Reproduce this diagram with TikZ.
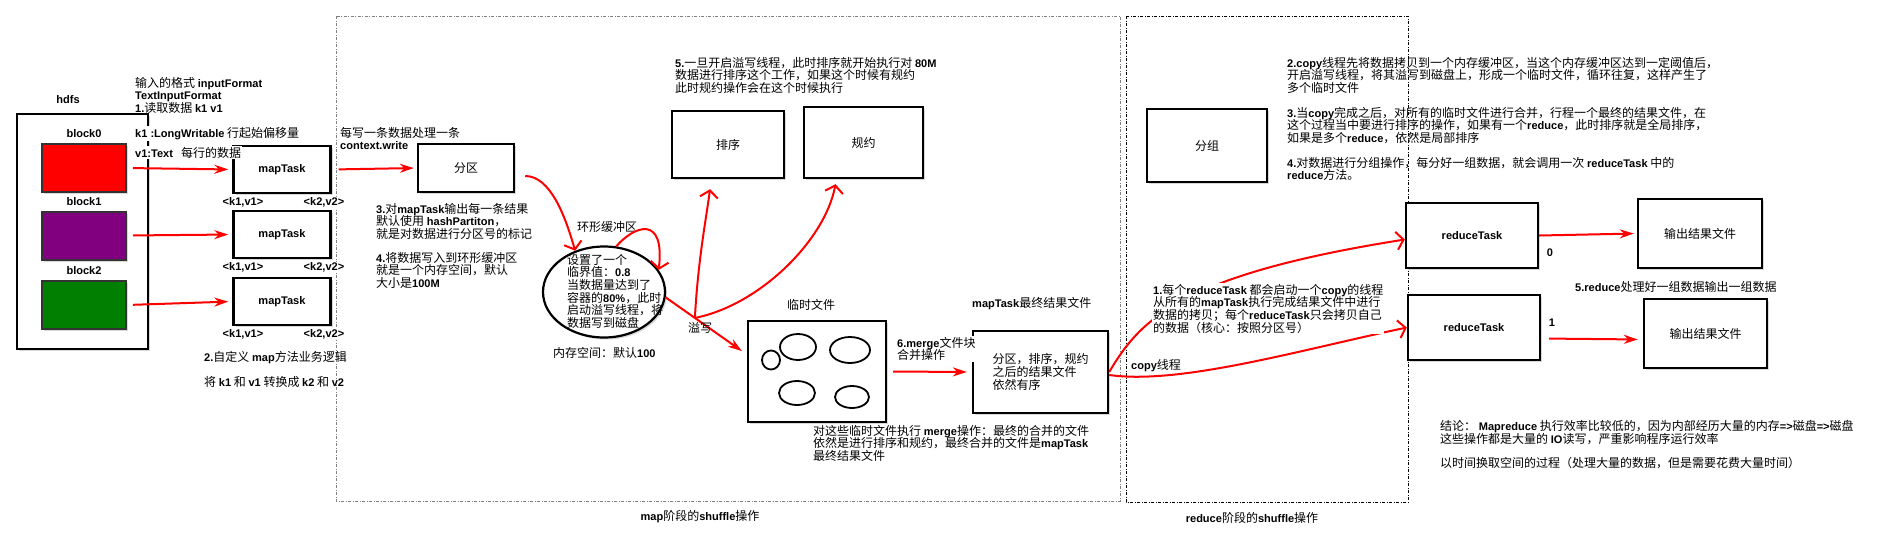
\documentclass[tikz,border=0pt]{standalone}
\usepackage{fontspec}
\setmainfont{Noto Sans CJK SC}
\newfontfamily\latinfont{Liberation Sans}[Scale=0.92]
\newcommand\en[1]{{\latinfont\bfseries #1}}
\usetikzlibrary{arrows.meta,shapes.geometric,shadows}

\definecolor{blockred}{HTML}{FF0000}
\definecolor{blockpurple}{HTML}{800080}
\definecolor{blockgreen}{HTML}{007F00}

\tikzset{%
  >=latex,
  every node/.style={font=\fontsize{12}{12.6}\selectfont},
  box/.style 2 args={draw, line width=2.4pt, minimum width=#1, minimum height=#2,
    inner sep=0pt, fill=white,
    drop shadow={shadow xshift=2pt, shadow yshift=-2pt, opacity=.3}},
  block/.style={draw=black!80, line width=2pt, minimum width=84pt, minimum height=48pt,
    fill=#1, drop shadow={shadow xshift=2pt, shadow yshift=-2pt, opacity=.3}},
  blob/.style 2 args={draw, ellipse, line width=1.8pt, minimum width=#1,
    minimum height=#2, inner sep=0pt},
  note/.style={align=left, anchor=north west, inner sep=0pt},
  halo/.style={fill=white, inner sep=1pt},
  lbl/.style={inner sep=0pt},
  flow/.style={red, line width=2pt, -{Stealth[length=14pt,width=9pt]}},
  bent/.style={red, line width=2pt, -{Straight Barb[length=7pt,width=18pt]}},
  phase/.style={line width=0.8pt, dash pattern=on 3pt off 1.5pt on 1pt off 1.5pt}
}

\begin{document}
\begin{tikzpicture}[x=1pt, y=-1pt]
  \useasboundingbox (0,0) rectangle (1896,555);

  % the two shuffle phases
  \draw[phase, gray] (336,16) rectangle (1120,501);
  \draw[phase] (1126,16) rectangle (1408,502);
  \node[lbl] (mapphase) at (700,517) {\en{map}阶段的\en{shuffle}操作};
  \node[lbl] (redphase) at (1252,518) {\en{reduce}阶段的\en{shuffle}操作};

  % input splits
  \node[lbl] (hdfslbl) at (68,100) {\en{hdfs}};
  \node[box={131pt}{235pt}] (hdfs) at (82.5,231.5) {};
  \foreach \i/\c/\by/\my in {0/blockred/168/169.5, 1/blockpurple/235.5/234.5, 2/blockgreen/305/301.5} {
    \node[block=\c] (block\i) at (84,\by) {};
    \node[lbl] (blocklbl\i) at (84,\by-34) {\en{block\i}};
    \node[box={97pt}{47pt}] (map\i) at (282,\my) {\en{mapTask}};
    \node[lbl, halo] (kvin\i) at (243,\my+33) {\en{<k1,v1>}};
    \node[lbl, halo] (kvout\i) at (324,\my+33) {\en{<k2,v2>}};
    \draw[flow, shorten <=6pt, shorten >=4pt] (block\i.east) -- (map\i.west);
  }
  \node[note] (informat) at (135,77) {输入的格式 \en{inputFormat}\\\en{TextInputFormat}\\\en{1.}读取数据 \en{k1 v1}};
  \node[note, halo] (k1note) at (134,126) {\en{k1 :LongWritable} 行起始偏移量};
  \node[note, halo] (v1note) at (134,146) {\en{v1:Text}\hspace{8pt}每行的数据};
  \node[note] (mapnote) at (204,351) {\en{2.}自定义 \en{map}方法业务逻辑};
  \node[note] (kvnote) at (204,376) {将 \en{k1} 和 \en{v1} 转换成 \en{k2} 和 \en{v2}};

  % partition
  \node[note] (writenote) at (340,127) {每写一条数据处理一条\\\en{context.write}};
  \node[box={96pt}{48pt}] (part) at (466,168) {分区};
  \draw[flow, shorten <=7pt, shorten >=3pt] (map0.east) -- (part.west);
  \node[note] (partnote) at (376,203) {\en{3.}对\en{mapTask}输出每一条结果\\默认使用 \en{hashPartiton}，\\就是对数据进行分区号的标记};
  \node[note] (bufnote) at (376,252) {\en{4.}将数据写入到环形缓冲区\\就是一个内存空间，默认\\大小是\en{100M}};

  % ring buffer
  \node[blob={122pt}{91pt}, line width=2.2pt,
    drop shadow={shadow xshift=2pt, shadow yshift=-2pt, opacity=.3}, fill=white] (ring) at (604,292) {};
  \node[note] (ringtext) at (567,254) {设置了一个\\临界值：\en{0.8}\\当数据量达到了\\容器的\en{80\%}，此时\\启动溢写线程，将\\数据写到磁盘};
  \node[note] (ringlbl) at (577,221) {环形缓冲区};
  \node[note] (memnote) at (553,347) {内存空间：默认\en{100}};
  \draw[bent, shorten <=10pt] ([yshift=-8pt]part.east) .. controls (550,176) and (565,215) .. (ring.125);
  \draw[bent] (ring.75) .. controls (635,225) and (665,215) .. (ring.22);

  % sort and combine
  \node[note] (sortnote) at (675,57) {\en{5.}一旦开启溢写线程，此时排序就开始执行对 \en{80M}\\数据进行排序这个工作，如果这个时候有规约\\此时规约操作会在这个时候执行};
  \node[box={112pt}{67pt}] (sort) at (728,144.5) {排序};
  \node[box={119pt}{71pt}] (combine) at (863.5,142.5) {规约};

  % spill files
  \node[note] (tmplbl) at (787,299) {临时文件};
  \node[box={138pt}{101pt}] (tmp) at (817,371.5) {};
  \node[blob={18pt}{19pt}] (f1) at (771,360) {};
  \node[blob={36pt}{26pt}] (f2) at (798,347) {};
  \node[blob={40pt}{26pt}] (f3) at (850,350) {};
  \node[blob={36pt}{24pt}] (f4) at (797,393) {};
  \node[blob={34pt}{22pt}] (f5) at (852,397) {};
  \path (ring.-5) -- ([yshift=17pt]tmp.west) coordinate[pos=.36] (spill);
  \draw[flow, shorten >=6pt] (ring.-5) -- ([yshift=17pt]tmp.west);
  \node[lbl] (spilllbl) at (700,328) {溢写};
  \draw[bent] (spill) .. controls (698,260) and (706,220) .. ([xshift=-18pt,yshift=-10pt]sort.south);
  \draw[bent] (spill) .. controls (760,305) and (825,240) .. ([xshift=-28pt,yshift=-5pt]combine.south);
  \node[note] (tmpnote) at (813,425) {对这些临时文件执行 \en{merge}操作：最终的合并的文件\\依然是进行排序和规约，最终合并的文件是\en{mapTask}\\最终结果文件};

  % merge
  \node[note] (finallbl) at (972,297) {\en{mapTask}最终结果文件};
  \node[box={135pt}{82pt}, align=left] (final) at (1040.5,372) {分区，排序，规约\\之后的结果文件\\依然有序};
  \node[note, halo] (mergelbl) at (896,336) {\en{6.merge}文件块\\合并操作};
  \draw[flow, shorten <=6pt, shorten >=5pt] (tmp.east) -- (final.west);

  % reduce side
  \node[box={120pt}{73pt}] (group) at (1207,145.5) {分组};
  \node[note] (copynote) at (1287,57) {\en{2.copy}线程先将数据拷贝到一个内存缓冲区，当这个内存缓冲区达到一定阈值后，\\开启溢写线程，将其溢写到磁盘上，形成一个临时文件，循环往复，这样产生了\\多个临时文件};
  \node[note] (mergenote) at (1287,107) {\en{3.}当\en{copy}完成之后，对所有的临时文件进行合并，行程一个最终的结果文件，在\\这个过程当中要进行排序的操作，如果有一个\en{reduce}，此时排序就是全局排序，\\如果是多个\en{reduce}，依然是局部排序};
  \node[note] (groupnote) at (1287,157) {\en{4.}对数据进行分组操作，每分好一组数据，就会调用一次 \en{reduceTask} 中的\\\en{reduce}方法。};
  \node[box={132pt}{65pt}] (red1) at (1472,235.5) {\en{reduceTask}};
  \node[box={132pt}{65pt}] (red2) at (1474,327.5) {\en{reduceTask}};
  \node[box={124pt}{69pt}] (out1) at (1700,233.5) {输出结果文件};
  \node[box={123pt}{69pt}] (out2) at (1705.5,333.5) {输出结果文件};
  \node[lbl] (port0) at (1550,253) {\en{0}};
  \node[lbl] (port1) at (1552,323) {\en{1}};
  \node[note] (outnote) at (1575,281) {\en{5.reduce}处理好一组数据输出一组数据};
  \draw[bent] (final.east) .. controls (1140,320) and (1180,275) .. ([yshift=-4pt]red1.west);
  \draw[bent] ([yshift=-3pt]final.east) .. controls (1180,385) and (1300,350) .. (red2.west);
  \node[note, halo] (fetchnote) at (1152,283) {\en{1.}每个\en{reduceTask} 都会启动一个\en{copy}的线程\\从所有的\en{mapTask}执行完成结果文件中进行\\数据的拷贝；每个\en{reduceTask}只会拷贝自己\\的数据（核心：按照分区号）};
  \node[note] (copylbl) at (1131,359) {\en{copy}线程};
  \draw[flow, shorten >=3pt] (red1.east) -- (out1.west);
  \draw[flow, shorten <=8pt, shorten >=5pt] ([yshift=-11pt]red2.east) -- ([yshift=-6pt]out2.west);

  % conclusion
  \node[note] (endnote) at (1440,420) {结论：\ \en{Mapreduce} 执行效率比较低的，因为内部经历大量的内存\en{=>}磁盘\en{=>}磁盘\\这些操作都是大量的 \en{IO}读写，严重影响程序运行效率};
  \node[note] (tradenote) at (1440,457) {以时间换取空间的过程（处理大量的数据，但是需要花费大量时间）};
\end{tikzpicture}
\end{document}
